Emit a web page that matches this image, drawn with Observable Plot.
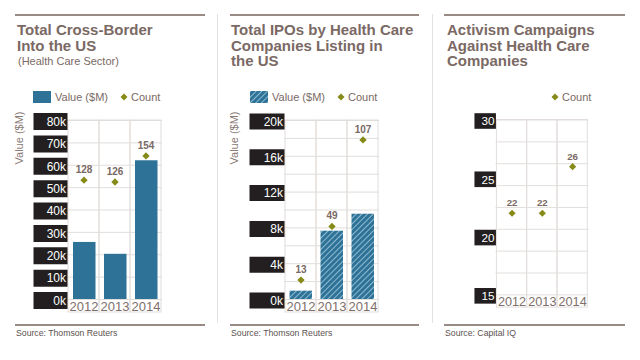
<!DOCTYPE html>
<html>
<head>
<meta charset="utf-8">
<script src="https://cdn.jsdelivr.net/npm/d3@7"></script>
<script src="https://cdn.jsdelivr.net/npm/@observablehq/plot@0.6"></script>
<style>
  html, body { margin: 0; padding: 0; background: #fff; }
  body { width: 640px; height: 360px; position: relative; overflow: hidden; font-family: "Liberation Sans", Arial, sans-serif; }
  .rule { position: absolute; height: 2px; background: #998a85; }
  .sep { position: absolute; width: 1px; background: #e2e2e2; top: 14px; height: 309px; z-index: 5; }
  .title { position: absolute; font-weight: bold; font-size: 15px; line-height: 15.5px; color: #7a6964; white-space: nowrap; }
  .sub { position: absolute; font-size: 11px; line-height: 11px; color: #7a6964; white-space: nowrap; }
  .legend { position: absolute; top: 91px; height: 12px; font-size: 11px; line-height: 12px; color: #7a6964; white-space: nowrap; display: flex; align-items: center; }
  .legend svg { display: block; }
  .src { position: absolute; font-size: 8.7px; line-height: 10px; color: #5b524f; white-space: nowrap; top: 328px; }
  .ylab { position: absolute; font-size: 11px; color: #8a7b76; white-space: nowrap; transform: rotate(-90deg); transform-origin: center center; }
  .chart { position: absolute; top: 100px; }
</style>
</head>
<body>
<svg width="0" height="0" style="position:absolute">
  <defs>
    <pattern id="hatch" patternUnits="userSpaceOnUse" width="4" height="4" patternTransform="rotate(45)">
      <rect width="4" height="4" fill="#2e7397"></rect>
      <line x1="0" y1="0" x2="0" y2="4" stroke="#a8cde2" stroke-width="1.6"></line>
    </pattern>
  </defs>
</svg>

<div class="sep" style="left:217px"></div>
<div class="sep" style="left:432px"></div>

<div class="rule" style="left:15px; width:190px; top:14px"></div>
<div class="rule" style="left:230px; width:189px; top:14px"></div>
<div class="rule" style="left:444px; width:181px; top:14px"></div>
<div class="rule" style="left:15px; width:190px; top:324px"></div>
<div class="rule" style="left:230px; width:189px; top:324px"></div>
<div class="rule" style="left:444px; width:181px; top:324px"></div>

<div class="title" style="left:17px; top:22px">Total Cross-Border<br>Into the US</div>
<div class="sub" style="left:18px; top:56px">(Health Care Sector)</div>
<div class="title" style="left:231px; top:22px">Total IPOs by Health Care<br>Companies Listing in<br>the US</div>
<div class="title" style="left:447px; top:22px">Activism Campaigns<br>Against Health Care<br>Companies</div>

<div class="legend" style="left:33px">
  <svg width="18" height="12"><rect width="18" height="12" fill="#2e7397"></rect></svg>
  <span style="margin-left:4px">Value ($M)</span>
  <svg width="8" height="8" style="margin-left:12px"><path d="M4,0.5L7.5,4L4,7.5L0.5,4Z" fill="#868a17"></path></svg>
  <span style="margin-left:3px">Count</span>
</div>
<div class="legend" style="left:250px">
  <svg width="18" height="12"><rect width="18" height="12" fill="url(#hatch)"></rect></svg>
  <span style="margin-left:4px">Value ($M)</span>
  <svg width="8" height="8" style="margin-left:12px"><path d="M4,0.5L7.5,4L4,7.5L0.5,4Z" fill="#868a17"></path></svg>
  <span style="margin-left:3px">Count</span>
</div>
<div class="legend" style="left:551px">
  <svg width="8" height="8"><path d="M4,0.5L7.5,4L4,7.5L0.5,4Z" fill="#868a17"></path></svg>
  <span style="margin-left:3px">Count</span>
</div>

<div class="ylab" style="left:-7px; top:132px">Value ($M)</div>
<div class="ylab" style="left:208px; top:132px">Value ($M)</div>

<div id="c1" class="chart" style="left:0px"></div>
<div id="c2" class="chart" style="left:215px"></div>
<div id="c3" class="chart" style="left:430px"></div>

<div class="src" style="left:16px">Source: Thomson Reuters</div>
<div class="src" style="left:231px">Source: Thomson Reuters</div>
<div class="src" style="left:445px">Source: Capital IQ</div>

<script>
// ---------- data ----------
const years = ["2012", "2013", "2014"];

const crossBorderValues = [25500, 20200, 62000];
const crossBorderCounts = [128, 126, 154];
const crossBorderTicks = [0, 10000, 20000, 30000, 40000, 50000, 60000, 70000, 80000];
const crossBorderTickLabels = ["0k", "10k", "20k", "30k", "40k", "50k", "60k", "70k", "80k"];
const crossBorderCountMax = 192;

const ipoValues = [930, 7630, 9530];
const ipoCounts = [13, 49, 107];
const ipoTicks = [0, 4000, 8000, 12000, 16000, 20000];
const ipoTickLabels = ["0k", "4k", "8k", "12k", "16k", "20k"];
const ipoGrid = [0, 2000, 4000, 6000, 8000, 10000, 12000, 14000, 16000, 18000, 20000];
const ipoCountMax = 120;

const activismCounts = [22, 22, 26];
const activismTicks = [15, 20, 25, 30];
const activismTickLabels = ["15", "20", "25", "30"];
const activismGrid = [15, 16.875, 18.75, 20.625, 22.5, 24.375, 26.25, 28.125, 30];

// ---------- styles ----------
const BLUE = "#2e7397";
const OLIVE = "#868a17";
const GRID = "#e1dddb";
const BOX = "#231f20";
const LABEL = "#7a6964";
const SANS = "'Liberation Sans', Arial, sans-serif";

function boxSymbol(w, h) {
  return { draw(ctx) { ctx.rect(-w / 2, -h / 2, w, h); } };
}

function panel({values, counts, countFactor, yDomain, ticks, tickLabels, grid,
                barFill, boxW, boxH, marginLeft, marginRight, insetL, insetR}) {
  const rows = years.map((year, i) => ({
    year,
    value: values ? values[i] : null,
    count: counts[i],
    countY: counts[i] * countFactor
  }));
  const tickRows = ticks.map((t, i) => ({t, label: tickLabels[i]}));
  const marks = [
    Plot.barY(years, {x: d => d, y1: yDomain[0], y2: yDomain[1], fill: "none", stroke: GRID, strokeWidth: 1, insetBottom: -13}),
    Plot.ruleY(grid, {stroke: GRID, strokeWidth: 1})
  ];
  if (values) {
    marks.push(Plot.barY(rows, {x: "year", y: "value", fill: barFill, insetLeft: insetL, insetRight: insetR}));
  }
  marks.push(
    Plot.dot(rows, {x: "year", y: "countY", symbol: "diamond2", r: 3.3, fill: OLIVE, stroke: "none"}),
    Plot.text(rows, {x: "year", y: "countY", text: d => String(d.count), dy: -10.5, fill: LABEL, fontWeight: "bold", fontSize: 10, fontFamily: SANS}),
    Plot.dot(tickRows, {y: "t", frameAnchor: "left", dx: -boxW / 2, dy: 1, symbol: boxSymbol(boxW, boxH), fill: BOX, stroke: "none"}),
    Plot.text(tickRows, {y: "t", text: "label", frameAnchor: "left", dx: -1.5, dy: 1.5, textAnchor: "end", fill: "white", fontSize: 12, fontFamily: SANS})
  );
  return Plot.plot({
    width: 215,
    height: 220,
    marginTop: 20,
    marginBottom: 21,
    marginLeft,
    marginRight,
    style: {background: "none", overflow: "visible", fontFamily: "'Liberation Sans Narrow', 'Liberation Sans', Arial, sans-serif", fontSize: "13px", color: "#7d6f6a"},
    x: {type: "band", domain: years, paddingInner: 0, paddingOuter: 0, tickSize: 0, tickPadding: 2, label: null},
    y: {domain: yDomain, axis: null},
    marks
  });
}

document.getElementById("c1").appendChild(panel({
  values: crossBorderValues, counts: crossBorderCounts, countFactor: 80000 / crossBorderCountMax,
  yDomain: [0, 80000], ticks: crossBorderTicks, tickLabels: crossBorderTickLabels, grid: crossBorderTicks,
  barFill: BLUE, boxW: 34, boxH: 17, marginLeft: 67, marginRight: 53, insetL: 5, insetR: 3.5
}));

document.getElementById("c2").appendChild(panel({
  values: ipoValues, counts: ipoCounts, countFactor: 20000 / ipoCountMax,
  yDomain: [0, 20000], ticks: ipoTicks, tickLabels: ipoTickLabels, grid: ipoGrid,
  barFill: "url(#hatch)", boxW: 35, boxH: 16, marginLeft: 69, marginRight: 51, insetL: 4.5, insetR: 4
}));

document.getElementById("c3").appendChild(panel({
  values: null, counts: activismCounts, countFactor: 1,
  yDomain: [15, 30], ticks: activismTicks, tickLabels: activismTickLabels, grid: activismGrid,
  barFill: BLUE, boxW: 22, boxH: 16, marginLeft: 67, marginRight: 53, insetL: 5, insetR: 3.5
}));
</script>
</body>
</html>
